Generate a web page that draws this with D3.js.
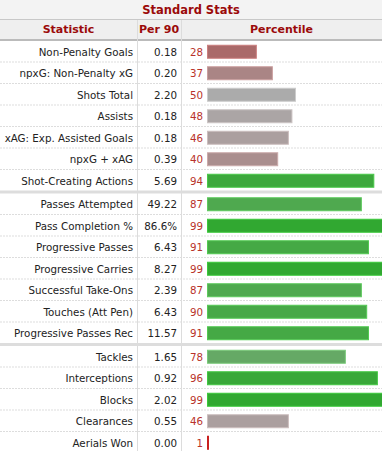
<!DOCTYPE html>
<html>
<head>
<meta charset="utf-8">
<script src="https://cdn.jsdelivr.net/npm/d3@7"></script>
<style>
  body { margin: 0; background: #fff; }
  svg text { font-family: "DejaVu Sans", Verdana, sans-serif; }
</style>
</head>
<body>
<div id="chart"></div>
<script>
const title = 'Standard Stats'
const headers = ['Statistic', 'Per 90', 'Percentile']

const stats = [
  'Non-Penalty Goals', 'npxG: Non-Penalty xG', 'Shots Total', 'Assists',
  'xAG: Exp. Assisted Goals', 'npxG + xAG', 'Shot-Creating Actions',
  'Passes Attempted', 'Pass Completion %', 'Progressive Passes',
  'Progressive Carries', 'Successful Take-Ons', 'Touches (Att Pen)',
  'Progressive Passes Rec',
  'Tackles', 'Interceptions', 'Blocks', 'Clearances', 'Aerials Won'
]
const per90 = [
  '0.18', '0.20', '2.20', '0.18', '0.18', '0.39', '5.69',
  '49.22', '86.6%', '6.43', '8.27', '2.39', '6.43', '11.57',
  '1.65', '0.92', '2.02', '0.55', '0.00'
]
const percentile = [
  28, 37, 50, 48, 46, 40, 94,
  87, 99, 91, 99, 87, 90, 91,
  78, 96, 99, 46, 1
]
// index of the first row of each group
const groupStarts = [0, 7, 14]

const W = 382, H = 451
const titleH = 19, headH = 21
const bodyTop = titleH + headH + 1
const rowH = 21.5, gap = 2
const col1 = 137, col2 = 181
const fs = 10.3

const svg = d3.select('#chart').append('svg')
  .attr('width', W)
  .attr('height', H)

const groupOf = i => d3.bisectRight(groupStarts, i) - 1
const rowY = i => bodyTop + i * rowH + groupOf(i) * gap

const x = d3.scaleLinear().domain([0, 100]).range([0, 178])
const color = d3.scaleLinear()
  .domain([0, 50, 100])
  .range(['#a81818', '#ababab', '#2ea82e'])

// title row
svg.append('rect').attr('width', W).attr('height', titleH).attr('fill', '#f3f3f3')
svg.append('text')
  .attr('x', W / 2).attr('y', 13.5)
  .attr('text-anchor', 'middle')
  .attr('font-size', 11.5).attr('font-weight', 'bold')
  .attr('fill', '#9b0a0a')
  .text(title)
svg.append('line').attr('x1', 0).attr('x2', W).attr('y1', titleH + 0.5).attr('y2', titleH + 0.5)
  .attr('stroke', '#c8c8c8')

// header row
svg.append('rect').attr('y', titleH + 1).attr('width', W).attr('height', headH - 1).attr('fill', '#efefef')
const headX = [col1 / 2, (col1 + col2) / 2, (col2 + W) / 2]
svg.selectAll('text.head')
  .data(headers)
  .enter().append('text')
  .attr('class', 'head')
  .attr('x', (d, i) => headX[i])
  .attr('y', titleH + 14)
  .attr('text-anchor', 'middle')
  .attr('font-size', 11).attr('font-weight', 'bold')
  .attr('fill', '#9b0a0a')
  .text(d => d)
svg.append('rect').attr('y', bodyTop - 2).attr('width', W).attr('height', 2).attr('fill', '#bbbbbb')

// column lines
;[col1, col2].forEach(cx => {
  svg.append('line')
    .attr('x1', cx + 0.5).attr('x2', cx + 0.5)
    .attr('y1', titleH + 1).attr('y2', H)
    .attr('stroke', '#dcdcdc')
})

const rows = svg.selectAll('g.row')
  .data(stats.map((s, i) => ({ stat: s, per90: per90[i], pct: percentile[i], i })))
  .enter().append('g')
  .attr('class', 'row')
  .attr('transform', d => 'translate(0,' + rowY(d.i) + ')')

// dotted row separators
rows.filter(d => d.i < stats.length - 1 && !groupStarts.includes(d.i + 1))
  .append('line')
  .attr('x1', 0).attr('x2', W)
  .attr('y1', rowH - 0.5).attr('y2', rowH - 0.5)
  .attr('stroke', '#dddddd')
  .attr('stroke-dasharray', '2,1')

rows.append('text')
  .attr('x', col1 - 4).attr('y', rowH / 2 + 4)
  .attr('text-anchor', 'end')
  .attr('font-size', fs)
  .attr('fill', '#222')
  .text(d => d.stat)

rows.append('text')
  .attr('x', col2 - 4).attr('y', rowH / 2 + 4)
  .attr('text-anchor', 'end')
  .attr('font-size', fs)
  .attr('fill', '#222')
  .text(d => d.per90)

rows.append('text')
  .attr('x', 203).attr('y', rowH / 2 + 4)
  .attr('text-anchor', 'end')
  .attr('font-size', fs)
  .attr('fill', '#b8322a')
  .text(d => d.pct)

rows.append('rect')
  .attr('x', 207.5)
  .attr('y', rowH / 2 - 6.5)
  .attr('width', d => Math.max(1, x(d.pct) - 1))
  .attr('height', 13)
  .attr('fill', d => color(d.pct))
  .attr('stroke', d => d3.color(color(d.pct)).brighter(0.5))
  .attr('stroke-width', 1)

// thick group separators
groupStarts.slice(1).forEach(s => {
  svg.append('rect')
    .attr('x', 0).attr('y', rowY(s) - gap - 1)
    .attr('width', W).attr('height', 3)
    .attr('fill', '#dddddd')
})
</script>
</body>
</html>
